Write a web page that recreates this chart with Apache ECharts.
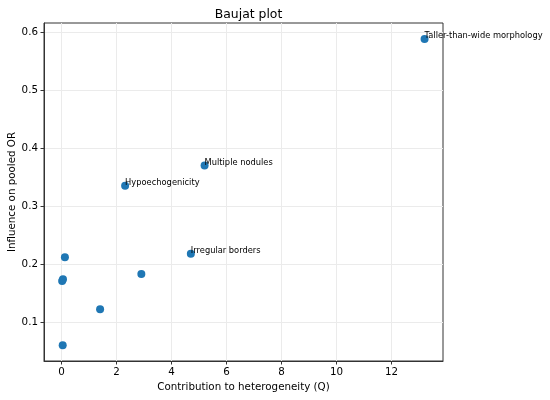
<!DOCTYPE html>
<html>
<head>
<meta charset="utf-8">
<script src="https://cdn.jsdelivr.net/npm/echarts@6/dist/echarts.min.js"></script>
<style>
  html, body { margin: 0; padding: 0; background: #fff; }
  #chart { width: 550px; height: 400px; }
</style>
</head>
<body>
<div id="chart"></div>
<script>
// Baujat plot data
const studyNames = ['Taller-than-wide morphology', 'Multiple nodules', 'Hypoechogenicity', 'Irregular borders', '', '', '', '', '', ''];
const contribution = [13.2, 5.2, 2.31, 4.7, 0.12, 0.02, 0.05, 2.9, 1.4, 0.04];
const influence = [0.588, 0.370, 0.335, 0.218, 0.212, 0.171, 0.174, 0.183, 0.122, 0.060];

const xTicks = [0, 2, 4, 6, 8, 10, 12];
const yTicks = [0.1, 0.2, 0.3, 0.4, 0.5, 0.6];

const FONT = 'DejaVu Sans';
const gridColor = '#ebebeb';

const points = contribution.map(function (q, i) {
    return { name: studyNames[i], value: [q, influence[i]] };
});

const chart = echarts.init(document.getElementById('chart'));

const option = {
    animation: false,
    title: {
        text: 'Baujat plot',
        left: 243.5,
        textAlign: 'center',
        top: 4,
        textStyle: { fontFamily: FONT, fontSize: 12.4, fontWeight: 'normal', color: '#000' }
    },
    grid: {
        left: 44, right: 107, top: 23, bottom: 39,
        outerBoundsMode: 'none',
        containLabel: false,
        show: true,
        borderColor: '#333',
        borderWidth: 1
    },
    xAxis: {
        type: 'value',
        min: -0.64,
        max: 13.87,
        name: 'Contribution to heterogeneity (Q)',
        nameLocation: 'middle',
        nameGap: 21,
        nameMoveOverlap: false,
        nameTextStyle: { fontFamily: FONT, fontSize: 10.3, color: '#000' },
        axisLine: { show: true, onZero: false, lineStyle: { color: '#333' } },
        axisTick: { show: true, length: 3.5, customValues: xTicks, lineStyle: { color: '#333' } },
        axisLabel: {
            customValues: xTicks,
            fontFamily: FONT, fontSize: 10.3, color: '#000', margin: 6
        },
        splitLine: { show: false }
    },
    yAxis: {
        type: 'value',
        min: 0.033,
        max: 0.6155,
        name: 'Influence on pooled OR',
        nameLocation: 'middle',
        nameGap: 27,
        nameMoveOverlap: false,
        nameTextStyle: { fontFamily: FONT, fontSize: 10.3, color: '#000' },
        axisLine: { show: true, onZero: false, lineStyle: { color: '#333' } },
        axisTick: { show: true, length: 3.5, customValues: yTicks, lineStyle: { color: '#333' } },
        axisLabel: {
            customValues: yTicks,
            formatter: function (v) { return v.toFixed(1); },
            fontFamily: FONT, fontSize: 10.3, color: '#000', margin: 6
        },
        splitLine: { show: false }
    },
    series: [
        {
            // grid lines at the tick positions
            type: 'scatter',
            data: [],
            silent: true,
            z: 0,
            markLine: {
                silent: true,
                symbol: 'none',
                z: 0,
                label: { show: false },
                lineStyle: { color: gridColor, type: 'solid', width: 1 },
                data: xTicks.map(function (t) { return { xAxis: t }; })
                    .concat(yTicks.map(function (t) { return { yAxis: t }; }))
            }
        },
        {
            type: 'scatter',
            data: points,
            symbolSize: 8,
            z: 5,
            itemStyle: { color: '#1f77b4', opacity: 1 },
            label: {
                show: true,
                position: 'right',
                distance: -4,
                offset: [0, -3],
                formatter: function (p) { return p.name; },
                fontFamily: FONT,
                fontSize: 8.3,
                color: '#000'
            }
        }
    ]
};

chart.setOption(option);
</script>
</body>
</html>
